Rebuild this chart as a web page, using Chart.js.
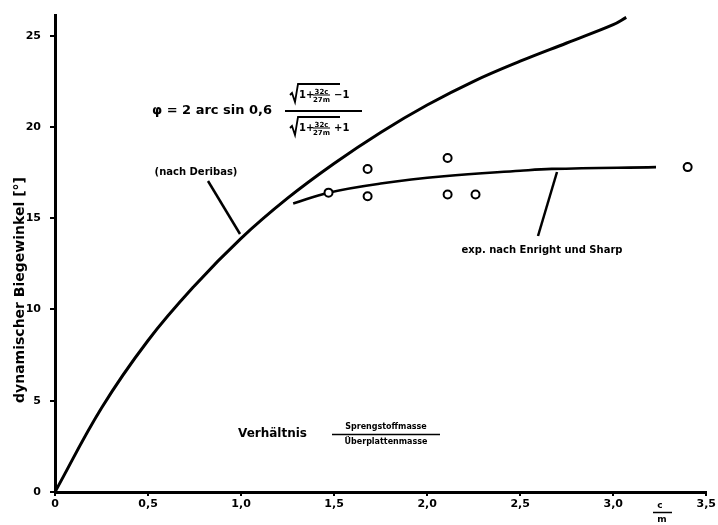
<!DOCTYPE html>
<html>
<head>
<meta charset="utf-8">
<script src="https://cdn.jsdelivr.net/npm/chart.js@4.4.1/dist/chart.umd.min.js"></script>
<style>
  html, body { margin: 0; padding: 0; background: #fff; }
  #wrap { width: 718px; height: 525px; position: relative; }
</style>
</head>
<body>
<div id="wrap"><canvas id="bendChart"></canvas></div>
<script>
// Deribas curve
const deribasX = [0, 0.25, 0.5, 0.75, 1.0, 1.25, 1.5, 1.75, 2.0, 2.25, 2.5, 2.75, 3.0, 3.07];
const deribasY = [0, 4.6, 8.3, 11.3, 13.9, 16.1, 18.0, 19.7, 21.2, 22.5, 23.6, 24.6, 25.6, 26.0];

// Enright & Sharp fitted line
const enrightX = [1.28, 1.47, 1.75, 2.09, 2.5, 2.67, 3.23];
const enrightY = [15.8, 16.4, 16.9, 17.3, 17.6, 17.7, 17.8];

// measured points
const expX = [1.47, 1.68, 1.68, 2.11, 2.11, 2.26, 3.40];
const expY = [16.4, 17.7, 16.2, 18.3, 16.3, 16.3, 17.8];

const xTicks = [0, 0.5, 1.0, 1.5, 2.0, 2.5, 3.0, 3.5];
const xTickLabels = ['0', '0,5', '1,0', '1,5', '2,0', '2,5', '3,0', '3,5'];
const yTicks = [0, 5, 10, 15, 20, 25];
const yTickLabels = ['0', '5', '10', '15', '20', '25'];

const FONT = "'DejaVu Sans', sans-serif";

function toPts(xs, ys) {
  return xs.map((x, i) => ({ x: x, y: ys[i] }));
}

// small stacked fraction helper
function smallFrac(ctx, x, yMid, top, bottom, size) {
  ctx.font = `bold ${size}px ${FONT}`;
  const w = Math.max(ctx.measureText(top).width, ctx.measureText(bottom).width);
  ctx.textAlign = 'center';
  ctx.textBaseline = 'alphabetic';
  ctx.fillText(top, x + w / 2, yMid - 1.5);
  ctx.fillText(bottom, x + w / 2, yMid + size - 0.5);
  ctx.beginPath();
  ctx.lineWidth = 1;
  ctx.moveTo(x, yMid);
  ctx.lineTo(x + w, yMid);
  ctx.stroke();
  return w;
}

function sqrtTerm(ctx, x, yMid, sign) {
  // radical sign
  ctx.lineWidth = 1.8;
  ctx.beginPath();
  ctx.moveTo(x, yMid + 1);
  ctx.lineTo(x + 2, yMid - 1);
  ctx.lineTo(x + 5, yMid + 8);
  ctx.lineTo(x + 8, yMid - 10);
  ctx.lineTo(x + 50, yMid - 10);
  ctx.stroke();
  ctx.font = `bold 10px ${FONT}`;
  ctx.textAlign = 'left';
  ctx.textBaseline = 'middle';
  ctx.fillText('1+', x + 9, yMid + 1);
  const w = smallFrac(ctx, x + 23, yMid + 1, '32c', '27m', 7);
  ctx.font = `bold 10px ${FONT}`;
  ctx.textAlign = 'left';
  ctx.textBaseline = 'middle';
  ctx.fillText(sign + '1', x + 25 + w + 2, yMid + 1);
}

const annotations = {
  id: 'annotations',
  afterDraw(chart) {
    const ctx = chart.ctx;
    ctx.save();
    ctx.fillStyle = '#000';
    ctx.strokeStyle = '#000';

    // y axis title
    ctx.save();
    ctx.translate(20, 290);
    ctx.rotate(-Math.PI / 2);
    ctx.font = `bold 14px ${FONT}`;
    ctx.textAlign = 'center';
    ctx.textBaseline = 'middle';
    ctx.fillText('dynamischer Biegewinkel [°]', 0, 0);
    ctx.restore();

    // formula
    ctx.font = `bold 13px ${FONT}`;
    ctx.textAlign = 'left';
    ctx.textBaseline = 'middle';
    ctx.fillText('φ = 2 arc sin 0,6', 152, 111);
    ctx.lineWidth = 2;
    ctx.beginPath();
    ctx.moveTo(285, 111);
    ctx.lineTo(362, 111);
    ctx.stroke();
    sqrtTerm(ctx, 290, 94, '−');
    sqrtTerm(ctx, 290, 127, '+');

    // (nach Deribas) + pointer
    ctx.font = `bold 10px ${FONT}`;
    ctx.textAlign = 'center';
    ctx.fillText('(nach Deribas)', 196, 172);
    ctx.lineWidth = 2.5;
    ctx.beginPath();
    ctx.moveTo(208, 181);
    ctx.lineTo(240, 234);
    ctx.stroke();

    // Enright & Sharp + pointer
    ctx.font = `bold 10px ${FONT}`;
    ctx.fillText('exp. nach Enright und Sharp', 542, 250);
    ctx.beginPath();
    ctx.moveTo(557, 172);
    ctx.lineTo(538, 236);
    ctx.stroke();

    // Verhältnis Sprengstoffmasse / Überplattenmasse
    ctx.font = `bold 12px ${FONT}`;
    ctx.textAlign = 'left';
    ctx.fillText('Verhältnis', 238, 434);
    ctx.font = `bold 8px ${FONT}`;
    ctx.textAlign = 'center';
    ctx.fillText('Sprengstoffmasse', 386, 427);
    ctx.fillText('Überplattenmasse', 386, 442);
    ctx.lineWidth = 1.5;
    ctx.beginPath();
    ctx.moveTo(332, 434.5);
    ctx.lineTo(440, 434.5);
    ctx.stroke();

    // x axis unit c/m
    ctx.font = `bold 9px ${FONT}`;
    ctx.fillText('c', 660, 506);
    ctx.fillText('m', 662, 520);
    ctx.lineWidth = 1.5;
    ctx.beginPath();
    ctx.moveTo(653, 512.5);
    ctx.lineTo(672, 512.5);
    ctx.stroke();

    ctx.restore();
  }
};

new Chart(document.getElementById('bendChart'), {
  type: 'scatter',
  data: {
    datasets: [
      {
        label: 'Messwerte',
        data: toPts(expX, expY),
        pointRadius: 4,
        pointBorderWidth: 2,
        pointBackgroundColor: '#fff',
        pointBorderColor: '#000',
        showLine: false,
        order: 0
      },
      {
        label: 'nach Deribas',
        data: toPts(deribasX, deribasY),
        showLine: true,
        borderColor: '#000',
        borderWidth: 3,
        pointRadius: 0,
        tension: 0.4,
        order: 1
      },
      {
        label: 'exp. nach Enright und Sharp',
        data: toPts(enrightX, enrightY),
        showLine: true,
        borderColor: '#000',
        borderWidth: 2.6,
        pointRadius: 0,
        tension: 0.4,
        order: 2
      }
    ]
  },
  options: {
    responsive: true,
    maintainAspectRatio: false,
    animation: false,
    layout: { padding: { top: 8, right: 3, left: 0, bottom: 0 } },
    plugins: {
      legend: { display: false },
      tooltip: { enabled: false }
    },
    scales: {
      x: {
        type: 'linear',
        min: 0,
        max: 3.5,
        afterBuildTicks: scale => { scale.ticks = xTicks.map(v => ({ value: v })); },
        afterFit: scale => { scale.height = 33; },
        border: { display: true, color: '#000', width: 3 },
        grid: { drawOnChartArea: false, drawTicks: true, tickLength: 4, color: '#000', lineWidth: 2 },
        ticks: {
          color: '#000',
          padding: 2,
          maxRotation: 0,
          font: { family: FONT, size: 11, weight: 'bold' },
          callback: (v) => xTickLabels[xTicks.indexOf(v)]
        }
      },
      y: {
        type: 'linear',
        min: 0,
        max: 26.1,
        afterBuildTicks: scale => { scale.ticks = yTicks.map(v => ({ value: v })); },
        afterFit: scale => { scale.width = 55; },
        border: { display: true, color: '#000', width: 3 },
        grid: { drawOnChartArea: false, drawTicks: true, tickLength: 5, color: '#000', lineWidth: 2 },
        ticks: {
          color: '#000',
          padding: 9,
          font: { family: FONT, size: 11, weight: 'bold' },
          callback: (v) => yTickLabels[yTicks.indexOf(v)]
        }
      }
    }
  },
  plugins: [annotations]
});
</script>
</body>
</html>
